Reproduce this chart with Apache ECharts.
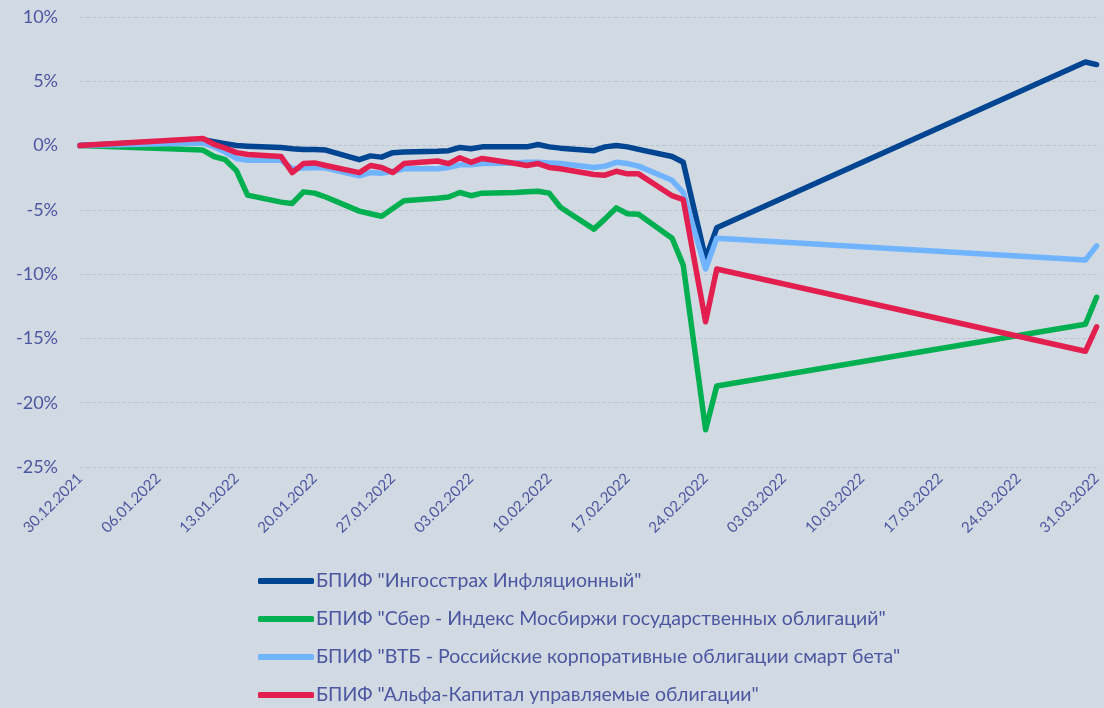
<!DOCTYPE html>
<html>
<head>
    <meta charset="utf-8">
    <title>БПИФ облигаций</title>
    <script src="https://cdn.jsdelivr.net/npm/echarts@6/dist/echarts.min.js"></script>
    <style>
        body { margin: 0; background: #d1d9e3; }
    </style>
</head>
<body>
    <div id="chart" style="width: 1104px; height: 708px;"></div>

    <script type="text/javascript">
        // даты торгов
        var dates = ['30.12.2021', '10.01.2022', '11.01.2022', '12.01.2022', '13.01.2022', '14.01.2022',
            '17.01.2022', '18.01.2022', '19.01.2022', '20.01.2022', '21.01.2022',
            '24.01.2022', '25.01.2022', '26.01.2022', '27.01.2022', '28.01.2022',
            '31.01.2022', '01.02.2022', '02.02.2022', '03.02.2022', '04.02.2022',
            '07.02.2022', '08.02.2022', '09.02.2022', '10.02.2022', '11.02.2022',
            '14.02.2022', '15.02.2022', '16.02.2022', '17.02.2022', '18.02.2022',
            '21.02.2022', '22.02.2022', '24.02.2022', '25.02.2022', '30.03.2022', '31.03.2022'];

        var ingos = [0, 0.45, 0.3, 0.15, 0.0, -0.05, -0.15, -0.25, -0.3, -0.3, -0.35,
            -1.1, -0.8, -0.9, -0.55, -0.5, -0.45, -0.4, -0.15, -0.25, -0.1,
            -0.1, -0.1, 0.08, -0.1, -0.2, -0.4, -0.1, 0.0, -0.1, -0.3,
            -0.85, -1.3, -8.8, -6.4, 6.5, 6.3];
        var sber = [0, -0.35, -0.85, -1.1, -1.95, -3.85, -4.4, -4.5, -3.6, -3.7, -4.0,
            -5.1, -5.3, -5.5, -4.9, -4.3, -4.1, -4.0, -3.65, -3.9, -3.7,
            -3.65, -3.6, -3.55, -3.7, -4.8, -6.5, -5.7, -4.85, -5.3, -5.35,
            -7.2, -9.3, -22.1, -18.7, -13.9, -11.8];
        var vtb = [0, 0.2, -0.1, -0.5, -1.0, -1.15, -1.15, -1.8, -1.75, -1.7, -1.75,
            -2.35, -2.1, -2.15, -2.0, -1.8, -1.8, -1.7, -1.5, -1.5, -1.4,
            -1.35, -1.3, -1.3, -1.35, -1.4, -1.7, -1.6, -1.3, -1.4, -1.6,
            -2.7, -3.65, -9.6, -7.2, -8.9, -7.8];
        var alfa = [0, 0.55, 0.1, -0.2, -0.55, -0.7, -0.85, -2.1, -1.4, -1.35, -1.55,
            -2.1, -1.55, -1.7, -2.1, -1.4, -1.2, -1.4, -0.95, -1.3, -1.0,
            -1.4, -1.55, -1.4, -1.7, -1.8, -2.25, -2.3, -2.0, -2.2, -2.2,
            -3.9, -4.2, -13.7, -9.6, -16.0, -14.1];

        var names = [
            'БПИФ "Ингосстрах Инфляционный"',
            'БПИФ "Сбер - Индекс Мосбиржи государственных облигаций"',
            'БПИФ "ВТБ - Российские корпоративные облигации смарт бета"',
            'БПИФ "Альфа-Капитал управляемые облигации"'
        ];
        var colors = ['#004592', '#00b050', '#70b4ff', '#e21f4e'];
        var textColor = '#4b57a0';

        // дни от 30.12.2021
        function toDay(s) {
            var p = s.split('.');
            var d = Date.UTC(+p[2], +p[1] - 1, +p[0]);
            return Math.round((d - Date.UTC(2021, 11, 30)) / 86400000);
        }
        function fromDay(n) {
            var d = new Date(Date.UTC(2021, 11, 30) + n * 86400000);
            var dd = ('0' + d.getUTCDate()).slice(-2);
            var mm = ('0' + (d.getUTCMonth() + 1)).slice(-2);
            return dd + '.' + mm + '.' + d.getUTCFullYear();
        }
        function pairs(vals) {
            return vals.map(function (v, i) { return [toDay(dates[i]), v]; });
        }

        var chart = echarts.init(document.getElementById('chart'));
        var allSeries = [ingos, sber, vtb, alfa];

        var option = {
            backgroundColor: '#d1d9e3',
            color: colors,
            textStyle: { fontFamily: 'Lato' },
            grid: { left: 80, right: 7, top: 17, bottom: 241 },
            legend: {
                orient: 'vertical',
                left: 258,
                top: 571,
                height: 200,
                padding: 0,
                itemGap: 18,
                itemWidth: 56,
                itemHeight: 6,
                icon: 'roundRect',
                textStyle: { fontSize: 19.5, color: textColor, fontFamily: 'Lato', padding: [0, 0, 0, -3] },
                data: names
            },
            xAxis: {
                type: 'value',
                min: 0,
                max: 91,
                interval: 7,
                axisLine: { show: false },
                axisTick: { show: false },
                splitLine: { show: false },
                axisLabel: {
                    rotate: 45,
                    fontSize: 15,
                    color: textColor,
                    margin: 9,
                    formatter: function (v) { return fromDay(v); }
                }
            },
            yAxis: {
                type: 'value',
                min: -25,
                max: 10,
                interval: 5,
                axisLine: { show: false },
                axisTick: { show: false },
                axisLabel: {
                    fontSize: 18,
                    color: textColor,
                    margin: 22,
                    formatter: '{value}%'
                },
                splitLine: { lineStyle: { color: '#bcc4d2', type: 'dashed', width: 1 } }
            },
            series: allSeries.map(function (vals, i) {
                return {
                    name: names[i],
                    type: 'line',
                    data: pairs(vals),
                    showSymbol: false,
                    lineStyle: { width: 5.5, cap: 'round', join: 'round' }
                };
            })
        };

        chart.setOption(option);
    </script>
</body>
</html>
